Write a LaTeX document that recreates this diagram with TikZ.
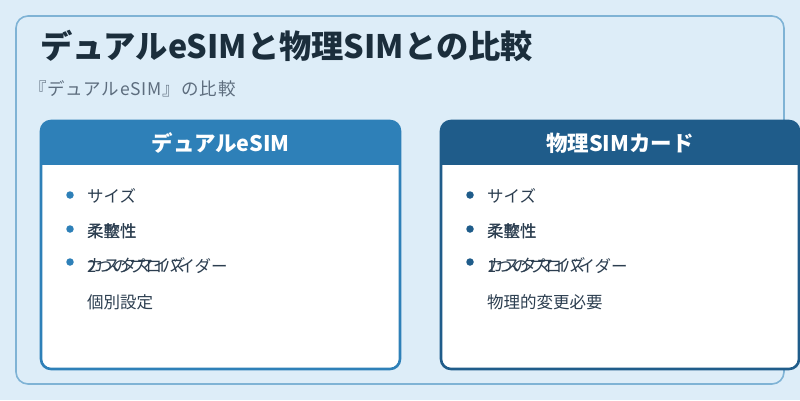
\documentclass[tikz,border=0pt]{standalone}
\usepackage{fontspec}
\setmainfont{Noto Sans CJK JP}
\definecolor{bg}{HTML}{DDEDF8}
\definecolor{outerc}{HTML}{7FB3D5}
\definecolor{titlec}{HTML}{1B2E3C}
\definecolor{subc}{HTML}{5D6D7E}
\definecolor{hdrL}{HTML}{2E80B8}
\definecolor{hdrR}{HTML}{1F5C8A}
\definecolor{itemc}{HTML}{2C3E50}
\begin{document}
\begin{tikzpicture}[x=1pt,y=-1pt,
  every node/.style={inner sep=0pt,outer sep=0pt},
  titlefont/.style={font=\fontsize{32.3}{35}\selectfont\bfseries,text=titlec},
  subfont/.style={font=\fontsize{17.5}{20}\selectfont\addfontfeatures{LetterSpace=5}\color{subc}},
  hdrtext/.style={font=\fontsize{21.5}{24}\selectfont\bfseries,text=white},
  itemtext/.style={font=\fontsize{16.5}{18}\selectfont,text=itemc,anchor=west},
  dotL/.style={circle,fill=hdrL,minimum size=7.5pt},
  dotR/.style={circle,fill=hdrR,minimum size=7.5pt}]
\useasboundingbox (0,0) rectangle (800,400);
\fill[bg] (0,0) rectangle (800,400);
\draw[outerc,line width=1.6pt,rounded corners=12pt] (16,16) rectangle (784,384);
\node[titlefont,anchor=west] (title) at (40,46) {デュアルeSIMと物理SIMとの比較};
\node[subfont,anchor=west] (sub) at (29,89) {『デュアルeSIM』の比較};
% left card
\fill[white,rounded corners=10pt] (41,121) rectangle (400,369);
\begin{scope}
\clip[rounded corners=10pt] (41,121) rectangle (400,369);
\fill[hdrL] (41,121) rectangle (400,165);
\end{scope}
\draw[hdrL,line width=2.6pt,rounded corners=10pt] (41,121) rectangle (400,369);
\node[hdrtext] (hl) at (220.5,143) {デュアルeSIM};
\node[dotL] (lb1) at (70,195) {};
\node[dotL] (lb2) at (70,229) {};
\node[dotL] (lb3) at (70,262) {};
\node[itemtext] (l1) at (87,196) {サイズ};
\node[itemtext] (l2) at (87,231) {柔軟性};
\node[itemtext] (l2b) at (87,231) {柔整性};
\node[itemtext] (l3) at (87,266) {2つのプロバイダー};
\node[itemtext] (l3b) at (87,265) {カスタマイズ};
\node[itemtext] (l4) at (87,302) {個別設定};
% right card
\fill[white,rounded corners=10pt] (441,121) rectangle (799,369);
\begin{scope}
\clip[rounded corners=10pt] (441,121) rectangle (799,369);
\fill[hdrR] (441,121) rectangle (799,165);
\end{scope}
\draw[hdrR,line width=2.6pt,rounded corners=10pt] (441,121) rectangle (799,369);
\node[hdrtext] (hr) at (620,143) {物理SIMカード};
\node[dotR] (rb1) at (470,195) {};
\node[dotR] (rb2) at (470,229) {};
\node[dotR] (rb3) at (470,262) {};
\node[itemtext] (r1) at (487,196) {サイズ};
\node[itemtext] (r2) at (487,231) {柔軟性};
\node[itemtext] (r2b) at (487,231) {柔整性};
\node[itemtext] (r3) at (487,266) {1つのプロバイダー};
\node[itemtext] (r3b) at (487,265) {カスタマイズ};
\node[itemtext] (r4) at (487,302) {物理的変更必要};
\end{tikzpicture}
\end{document}
